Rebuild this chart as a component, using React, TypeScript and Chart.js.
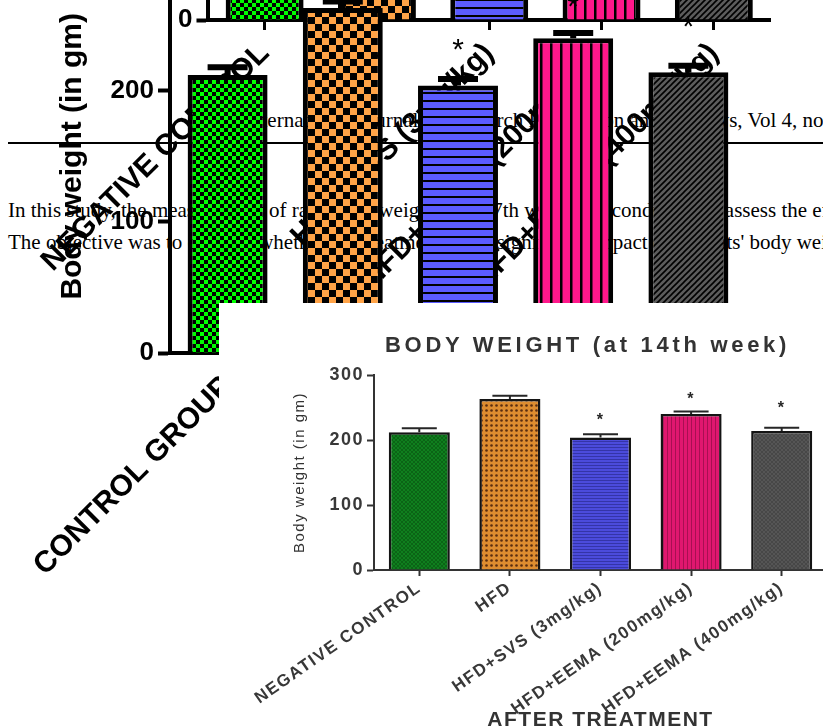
import React, { useEffect, useRef } from "react";
import { Chart, registerables } from "chart.js";
Chart.register(...registerables);

// ---------------- data ----------------
const categories = ["NEGATIVE CONTROL", "HFD", "HFD+SVS (3mg/kg)", "HFD+EEMA (200mg/kg)", "HFD+EEMA (400mg/kg)"];
const backCategories = ["CONTROL GROUP", "HFD", "HFD+SVS (3mg/kg)", "HFD+EEMA (200mg/kg)", "HFD+EEMA (400mg/kg)"];
const bodyWeight = [212, 263, 204, 240, 214];
const errorSem = [6, 5, 5, 4, 5];
const starLevel: (number | null)[] = [null, null, 237, 270, 255];
const yTickValues = [0, 100, 200, 300];
const yTitle = "Body weight (in gm)";
const insetTitle = "BODY WEIGHT (at 14th week)";
const insetXTitle = "AFTER TREATMENT";
const journalHeader = "International Journal of Research Publication and Reviews, Vol 4, no";
const bodyLines = [
  "In this study, the measurement of rats' body weight at the 7th week was conducted to assess the effect of the treatment.",
  "The objective was to observe whether the treatment had a significant impact on the rats' body weight.",
];

const SANS = "'Liberation Sans', Arial, sans-serif";
const SERIF = "'Liberation Serif', 'Times New Roman', serif";

// ---------------- patterns ----------------
function tile(w: number, h: number, draw: (g: CanvasRenderingContext2D) => void): CanvasPattern {
  const c = document.createElement("canvas");
  c.width = w;
  c.height = h;
  const g = c.getContext("2d")!;
  draw(g);
  return g.createPattern(c, "repeat")!;
}

function bigPatterns() {
  return [
    tile(8, 8, (g) => {
      g.fillStyle = "#000"; g.fillRect(0, 0, 8, 8);
      g.fillStyle = "#00ff00"; g.fillRect(0, 0, 4, 4); g.fillRect(4, 4, 4, 4);
    }),
    tile(14, 14, (g) => {
      g.fillStyle = "#000"; g.fillRect(0, 0, 14, 14);
      g.fillStyle = "#ffa347"; g.fillRect(0, 0, 7, 7); g.fillRect(7, 7, 7, 7);
    }),
    tile(8, 8, (g) => {
      g.fillStyle = "#5b5bff"; g.fillRect(0, 0, 8, 8);
      g.fillStyle = "#000"; g.fillRect(0, 0, 8, 2);
    }),
    tile(10, 10, (g) => {
      g.fillStyle = "#ff178a"; g.fillRect(0, 0, 10, 10);
      g.fillStyle = "#000"; g.fillRect(0, 0, 2.5, 10);
    }),
    tile(6, 6, (g) => {
      g.fillStyle = "#5c5c5c"; g.fillRect(0, 0, 6, 6);
      g.strokeStyle = "#000"; g.lineWidth = 1.6;
      g.beginPath();
      g.moveTo(0, 6); g.lineTo(6, 0);
      g.moveTo(-1, 1); g.lineTo(1, -1);
      g.moveTo(5, 7); g.lineTo(7, 5);
      g.stroke();
    }),
  ];
}

function insetPatterns() {
  return [
    tile(4, 4, (g) => {
      g.fillStyle = "#0f7f1e"; g.fillRect(0, 0, 4, 4);
      g.fillStyle = "#0b6416"; g.fillRect(0, 0, 2, 2); g.fillRect(2, 2, 2, 2);
    }),
    tile(5, 5, (g) => {
      g.fillStyle = "#de8d30"; g.fillRect(0, 0, 5, 5);
      g.fillStyle = "#5a2d10"; g.beginPath(); g.arc(2.5, 2.5, 1.3, 0, Math.PI * 2); g.fill();
    }),
    tile(3, 3, (g) => {
      g.fillStyle = "#4b4bdc"; g.fillRect(0, 0, 3, 3);
      g.fillStyle = "#3434a8"; g.fillRect(0, 0, 3, 1);
    }),
    tile(4, 4, (g) => {
      g.fillStyle = "#e0176f"; g.fillRect(0, 0, 4, 4);
      g.fillStyle = "#a80f52"; g.fillRect(0, 0, 1, 4);
    }),
    tile(4, 4, (g) => {
      g.fillStyle = "#474747"; g.fillRect(0, 0, 4, 4);
      g.fillStyle = "#555"; g.fillRect(0, 0, 2, 2); g.fillRect(2, 2, 2, 2);
    }),
  ];
}

// ---------------- plugins ----------------
const errorBarPlugin = {
  id: "errorBars",
  afterDatasetsDraw(chart: any, _args: any, opts: any) {
    const { ctx } = chart;
    const meta = chart.getDatasetMeta(0);
    const y = chart.scales.y;
    ctx.save();
    ctx.strokeStyle = opts.color;
    ctx.fillStyle = opts.color;
    ctx.lineWidth = opts.lineWidth;
    meta.data.forEach((bar: any, i: number) => {
      const top = y.getPixelForValue(bodyWeight[i]);
      const cap = y.getPixelForValue(bodyWeight[i] + errorSem[i]);
      ctx.beginPath();
      ctx.moveTo(bar.x, top);
      ctx.lineTo(bar.x, cap);
      ctx.moveTo(bar.x - opts.capWidth / 2, cap);
      ctx.lineTo(bar.x + opts.capWidth / 2, cap);
      ctx.stroke();
      const s = starLevel[i];
      if (s !== null) {
        ctx.font = opts.starFont;
        ctx.textAlign = "center";
        ctx.textBaseline = "alphabetic";
        ctx.fillText("*", bar.x, y.getPixelForValue(s) + opts.starSize * 0.57);
      }
    });
    ctx.restore();
  },
};

const spacingPlugin = {
  id: "letterSpacing",
  beforeLayout(chart: any, _a: any, opts: any) {
    chart.ctx.letterSpacing = opts.value;
  },
  beforeDraw(chart: any, _a: any, opts: any) {
    chart.ctx.letterSpacing = opts.value;
  },
};

// ---------------- big background chart ----------------
const BIG_W = 823;
const BIG_H = 787;

function BigChart({ labels, left, top }: { labels: string[]; left: number; top: number }) {
  const ref = useRef<HTMLCanvasElement>(null);
  useEffect(() => {
    const chart = new Chart(ref.current!, {
      type: "bar",
      data: {
        labels,
        datasets: [
          {
            data: bodyWeight,
            backgroundColor: bigPatterns() as any,
            borderColor: "#000",
            borderWidth: 5,
            barPercentage: 0.694,
            categoryPercentage: 1,
          },
        ],
      },
      options: {
        animation: false,
        responsive: false,
        devicePixelRatio: 1,
        layout: { padding: { top: 19, right: 77, left: 0, bottom: 0 } },
        plugins: {
          legend: { display: false },
          tooltip: { enabled: false },
          errorBars: { color: "#000", lineWidth: 6, capWidth: 40, starFont: `30px ${SANS}`, starSize: 30 },
        } as any,
        scales: {
          x: {
            grid: { drawOnChartArea: false, drawTicks: true, tickLength: 10, tickWidth: 3, tickColor: "#000", offset: false },
            border: { display: true, color: "#000", width: 4 },
            ticks: {
              autoSkip: false,
              minRotation: 45,
              maxRotation: 45,
              padding: 6,
              color: "#000",
              font: { family: SANS, size: 30, weight: "bold" },
            },
            afterFit: (s: any) => { s.height = BIG_H - 19 - 394; },
          },
          y: {
            min: 0,
            max: 300,
            afterBuildTicks: (s: any) => { s.ticks = yTickValues.map((v) => ({ value: v })); },
            grid: { drawOnChartArea: false, drawTicks: true, tickLength: 12, tickWidth: 4, tickColor: "#000" },
            border: { display: true, color: "#000", width: 4 },
            ticks: { padding: 4, color: "#000", font: { family: SANS, size: 26, weight: "bold" } },
            title: {
              display: true,
              text: yTitle,
              color: "#000",
              font: { family: SANS, size: 30, weight: "bold" },
              padding: { top: 55, bottom: 0 },
            },
            afterFit: (s: any) => { s.width = 170; },
          },
        },
      } as any,
      plugins: [errorBarPlugin],
    });
    return () => chart.destroy();
  }, []);
  return (
    <canvas
      ref={ref}
      width={BIG_W}
      height={BIG_H}
      style={{ position: "absolute", left, top, width: BIG_W, height: BIG_H, display: "block" }}
    />
  );
}

// ---------------- inset chart ----------------
const IN_W = 618;
const IN_H = 437;

function InsetChart() {
  const ref = useRef<HTMLCanvasElement>(null);
  useEffect(() => {
    const chart = new Chart(ref.current!, {
      type: "bar",
      data: {
        labels: categories,
        datasets: [
          {
            data: bodyWeight,
            backgroundColor: insetPatterns() as any,
            borderColor: "#141414",
            borderWidth: 2.5,
            barPercentage: 0.674,
            categoryPercentage: 1,
          },
        ],
      },
      options: {
        animation: false,
        responsive: false,
        devicePixelRatio: 1,
        layout: { padding: { top: 72, right: 10, left: 0, bottom: 0 } },
        plugins: {
          legend: { display: false },
          tooltip: { enabled: false },
          errorBars: { color: "#262626", lineWidth: 2, capWidth: 35, starFont: `bold 16px ${SANS}`, starSize: 16 },
          letterSpacing: { value: "1.5px" },
        } as any,
        scales: {
          x: {
            grid: { drawOnChartArea: false, drawTicks: true, tickLength: 6, tickWidth: 2, tickColor: "#333", offset: false },
            border: { display: true, color: "#333", width: 2 },
            ticks: {
              autoSkip: false,
              minRotation: 35,
              maxRotation: 35,
              padding: 2,
              color: "#383838",
              font: { family: SANS, size: 17, weight: "bold" },
            },
            title: {
              display: true,
              text: insetXTitle,
              color: "#333",
              font: { family: SANS, size: 21, weight: "bold" },
              padding: { top: 0, bottom: 7 },
            },
            afterFit: (s: any) => { s.height = 170; },
          },
          y: {
            min: 0,
            max: 300,
            afterBuildTicks: (s: any) => { s.ticks = yTickValues.map((v) => ({ value: v })); },
            grid: { drawOnChartArea: false, drawTicks: true, tickLength: 7, tickWidth: 2, tickColor: "#333" },
            border: { display: true, color: "#333", width: 2 },
            ticks: { padding: 3, color: "#383838", font: { family: SANS, size: 18, weight: "bold" } },
            title: {
              display: true,
              text: yTitle,
              color: "#333",
              font: { family: SANS, size: 15 },
              padding: { top: 72, bottom: 0 },
            },
            afterFit: (s: any) => { s.width = 155; },
          },
        },
      } as any,
      plugins: [errorBarPlugin, spacingPlugin],
    });
    return () => chart.destroy();
  }, []);
  return (
    <canvas
      ref={ref}
      width={IN_W}
      height={IN_H}
      style={{ position: "absolute", left: 0, top: 0, width: IN_W, height: IN_H, display: "block" }}
    />
  );
}

// ---------------- page ----------------
const serifText: React.CSSProperties = {
  position: "absolute",
  fontFamily: SERIF,
  fontSize: 21,
  lineHeight: "21px",
  whiteSpace: "nowrap",
  color: "#000",
};

export default function App() {
  return (
    <div
      style={{
        position: "fixed",
        left: 0,
        top: 0,
        width: 823,
        height: 727,
        overflow: "hidden",
        background: "#fff",
      }}
    >
      <div style={{ ...serifText, left: 244, top: 110 }}>{journalHeader}</div>
      <div style={{ position: "absolute", left: 8, top: 142, width: 815, height: 2, background: "#000" }} />
      <div style={{ ...serifText, left: 8, top: 200 }}>{bodyLines[0]}</div>
      <div style={{ ...serifText, left: 8, top: 232 }}>{bodyLines[1]}</div>

      <BigChart labels={categories} left={24} top={-393} />
      <BigChart labels={backCategories} left={0} top={-60} />

      <div
        style={{
          position: "absolute",
          left: 219,
          top: 303,
          width: 823 - 219,
          height: 727 - 303,
          background: "#fff",
          overflow: "hidden",
        }}
      >
        <InsetChart />
        <div
          style={{
            position: "absolute",
            left: 385 - 219,
            top: 332 - 303,
            fontFamily: SANS,
            fontWeight: "bold",
            fontSize: 22,
            lineHeight: "26px",
            letterSpacing: "3.7px",
            color: "#333",
            whiteSpace: "nowrap",
          }}
        >
          {insetTitle}
        </div>
      </div>
    </div>
  );
}
